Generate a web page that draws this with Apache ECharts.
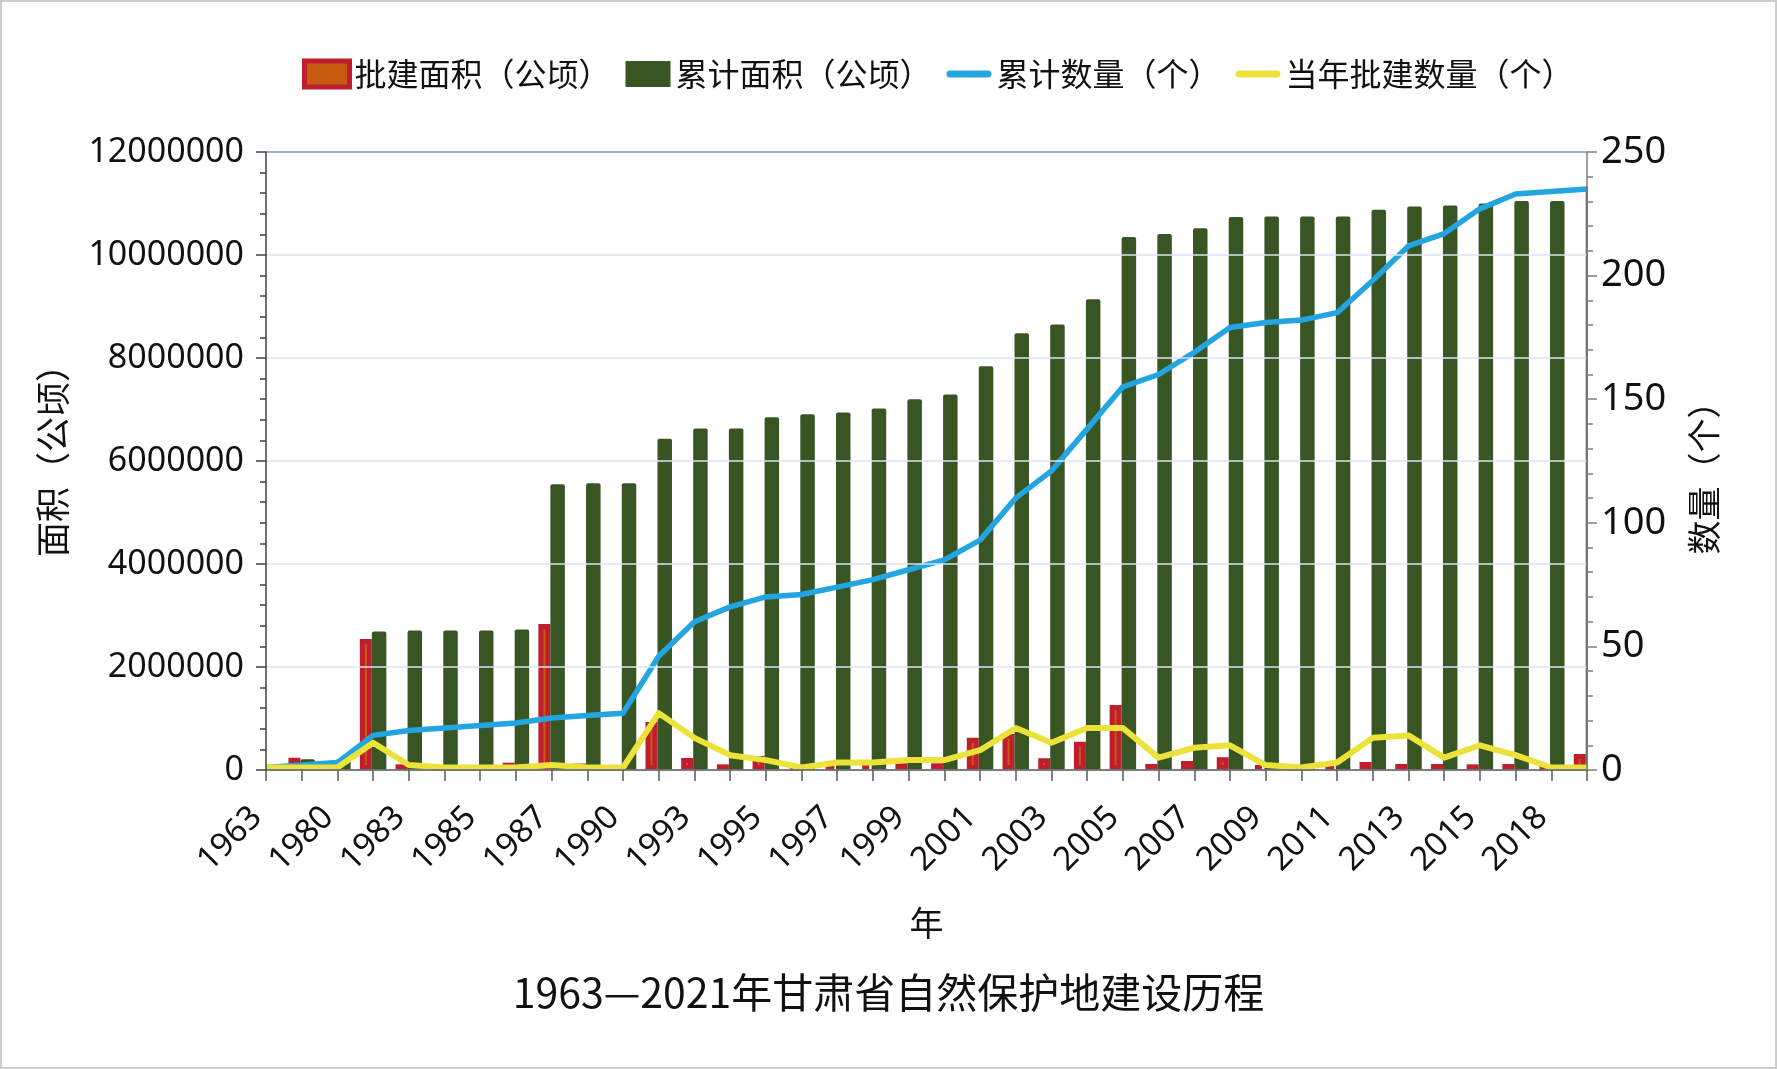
<!DOCTYPE html>
<html>
<head>
<meta charset="utf-8">
<script src="https://cdn.jsdelivr.net/npm/echarts@6/dist/echarts.min.js"></script>
<style>
  html, body { margin: 0; padding: 0; background: #fff; }
  #chart { width: 1777px; height: 1069px; }
  #frame { position: absolute; left: 0; top: 0; width: 1777px; height: 1069px;
           box-sizing: border-box; border: 2px solid #cdcdcd; pointer-events: none; }
</style>
</head>
<body>
<div id="chart"></div>
<div id="frame"></div>
<script>
// 年份（部分年份未标注）
const years = ['1963', '1978', '1980', '1982', '1983', '1984', '1985', '1986', '1987', '1988',
  '1990', '1992', '1993', '1994', '1995', '1996', '1997', '1998', '1999', '2000',
  '2001', '2002', '2003', '2004', '2005', '2006', '2007', '2008', '2009', '2010',
  '2011', '2012', '2013', '2014', '2015', '2017', '2018', '2020'];
// 批建面积（公顷）
const approvedArea = [30000, 240000, 60000, 2543000, 110000, 60000, 60000, 142000, 2835000, 125000,
  60000, 932000, 233000, 110000, 270000, 60000, 64000, 97000, 130000, 130000,
  627000, 700000, 227000, 550000, 1262000, 116000, 175000, 246000, 97000, 60000,
  60000, 155000, 116000, 116000, 110000, 116000, 60000, 311000];
// 累计面积（公顷）
const totalArea = [30000, 210000, 215000, 2690000, 2710000, 2710000, 2710000, 2730000, 5550000, 5570000,
  5570000, 6430000, 6630000, 6630000, 6850000, 6910000, 6940000, 7020000, 7200000, 7290000,
  7840000, 8480000, 8650000, 9140000, 10350000, 10410000, 10520000, 10740000, 10750000, 10750000,
  10750000, 10880000, 10940000, 10960000, 11000000, 11050000, 11050000, 11350000];
// 累计数量（个）
const totalCount = [1, 2, 3, 14, 16, 17, 18, 19, 21, 22, 23, 46, 60, 66, 70, 71, 74, 77, 81, 85,
  93, 110, 121, 138, 155, 160, 169, 179, 181, 182, 185, 198, 212, 217, 227, 233, 234, 235];
// 当年批建数量（个）
const yearCount = [1, 1, 1, 11, 2, 1, 1, 1, 2, 1, 1, 23, 13, 6, 4, 1, 3, 3, 4, 4,
  8, 17, 11, 17, 17, 5, 9, 10, 2, 1, 3, 13, 14, 5, 10, 6, 1, 1];

const latin = '"Noto Sans", "Noto Sans CJK SC", sans-serif';
const cjk = '"Noto Sans CJK SC", sans-serif';
const linePath = 'path://M4,0H46A4,4 0 0 1 46,8H4A4,4 0 0 1 4,0Z';

// 绘图区位置
const gridLeft = 266, gridRight = 190, gridTop = 152, gridBottom = 299;
const W = 1777, H = 1069;

const myChart = echarts.init(document.getElementById('chart'));

const option = {
  animation: false,
  backgroundColor: '#fff',
  title: {
    text: '1963—2021年甘肃省自然保护地建设历程',
    left: 'center',
    top: 967,
    textStyle: { fontSize: 41, fontWeight: 'normal', color: '#111', fontFamily: cjk }
  },
  legend: {
    left: 297,
    top: 53,
    itemWidth: 45,
    itemHeight: 26,
    itemGap: 15,
    textStyle: { fontSize: 32, color: '#111', fontFamily: cjk },
    data: [
      { name: '批建面积（公顷）', icon: 'rect', itemStyle: { borderWidth: 5 } },
      { name: '累计面积（公顷）', icon: 'rect' },
      { name: '累计数量（个）', icon: linePath, itemStyle: { borderWidth: 0 } },
      { name: '当年批建数量（个）', icon: linePath, itemStyle: { borderWidth: 0 } }
    ]
  },
  grid: {
    left: gridLeft, right: gridRight, top: gridTop, bottom: gridBottom,
    containLabel: false, outerBoundsMode: 'none'
  },
  // 两端柱子不超出绘图区（遮住轴外部分）
  graphic: [
    {
      type: 'rect', z: 10, silent: true,
      shape: { x: 230, y: gridTop - 12, width: gridLeft - 230 - 0.8, height: H - gridBottom - gridTop + 24 },
      style: { fill: '#fff' }
    },
    {
      type: 'rect', z: 10, silent: true,
      shape: { x: W - gridRight + 0.8, y: gridTop - 12, width: 16, height: H - gridBottom - gridTop + 24 },
      style: { fill: '#fff' }
    }
  ],
  xAxis: {
    type: 'category',
    data: years,
    boundaryGap: false,
    z: 20,
    name: '年',
    nameLocation: 'middle',
    nameGap: 136,
    nameTextStyle: { fontSize: 34, color: '#111', fontFamily: cjk },
    axisLine: { lineStyle: { color: '#595959', width: 1.5 } },
    axisTick: { interval: 0, length: 11, lineStyle: { color: '#595959', width: 1.5 } },
    axisLabel: {
      interval: 1, rotate: 45, fontSize: 33, margin: 33, padding: [0, 13, 0, 0],
      color: '#111', fontFamily: latin
    },
    splitLine: { show: false }
  },
  yAxis: [
    {
      type: 'value',
      min: 0,
      max: 12000000,
      interval: 2000000,
      position: 'left',
      z: 20,
      name: '面积（公顷）',
      nameLocation: 'middle',
      nameGap: 196,
      nameTextStyle: { fontSize: 35, color: '#111', fontFamily: cjk, padding: [0, 0, 0, 18] },
      axisLine: { show: true, lineStyle: { color: '#404040', width: 1.5 } },
      axisTick: { show: true, length: 10, lineStyle: { color: '#404040', width: 1.5 } },
      minorTick: { show: true, splitNumber: 5, length: 6, lineStyle: { color: '#404040', width: 1.5 } },
      axisLabel: { fontSize: 34, margin: 22, color: '#111', fontFamily: latin, formatter: (v) => String(v) },
      splitLine: {
        lineStyle: {
          color: ['#dce4f2', '#dce4f2', '#dce4f2', '#dce4f2', '#dce4f2', '#dce4f2', '#7b9ad6'],
          width: 1.5
        }
      }
    },
    {
      type: 'value',
      min: 0,
      max: 250,
      interval: 50,
      position: 'right',
      z: 20,
      name: '数量（个）',
      nameLocation: 'middle',
      nameGap: 100,
      nameTextStyle: { fontSize: 34, color: '#111', fontFamily: cjk, padding: [0, 17, 0, 0] },
      axisLine: { show: true, lineStyle: { color: '#7f7f7f', width: 1.5 } },
      axisTick: { show: true, length: 10, lineStyle: { color: '#7f7f7f', width: 1.5 } },
      minorTick: { show: true, splitNumber: 5, length: 6, lineStyle: { color: '#7f7f7f', width: 1.5 } },
      axisLabel: { fontSize: 38, margin: 14, color: '#111', fontFamily: latin },
      splitLine: { show: false }
    }
  ],
  series: [
    {
      name: '批建面积（公顷）',
      type: 'bar',
      data: approvedArea,
      barWidth: 12,
      barGap: 0,
      itemStyle: { color: '#c55a11', borderColor: '#be1e2d', borderWidth: 5 }
    },
    {
      name: '累计面积（公顷）',
      type: 'bar',
      data: totalArea,
      barWidth: 14.5,
      barGap: 0,
      itemStyle: { color: '#375623', borderRadius: [2, 2, 0, 0] }
    },
    {
      name: '累计数量（个）',
      type: 'line',
      yAxisIndex: 1,
      data: totalCount,
      symbol: 'none',
      lineStyle: { color: '#22a5e0', width: 5.5, join: 'round' },
      itemStyle: { color: '#22a5e0' }
    },
    {
      name: '当年批建数量（个）',
      type: 'line',
      yAxisIndex: 1,
      data: yearCount,
      symbol: 'none',
      lineStyle: { color: '#ece33a', width: 6, join: 'round' },
      itemStyle: { color: '#ece33a' }
    }
  ]
};

myChart.setOption(option);
window.addEventListener('resize', () => {
  myChart.resize();
});
</script>
</body>
</html>
